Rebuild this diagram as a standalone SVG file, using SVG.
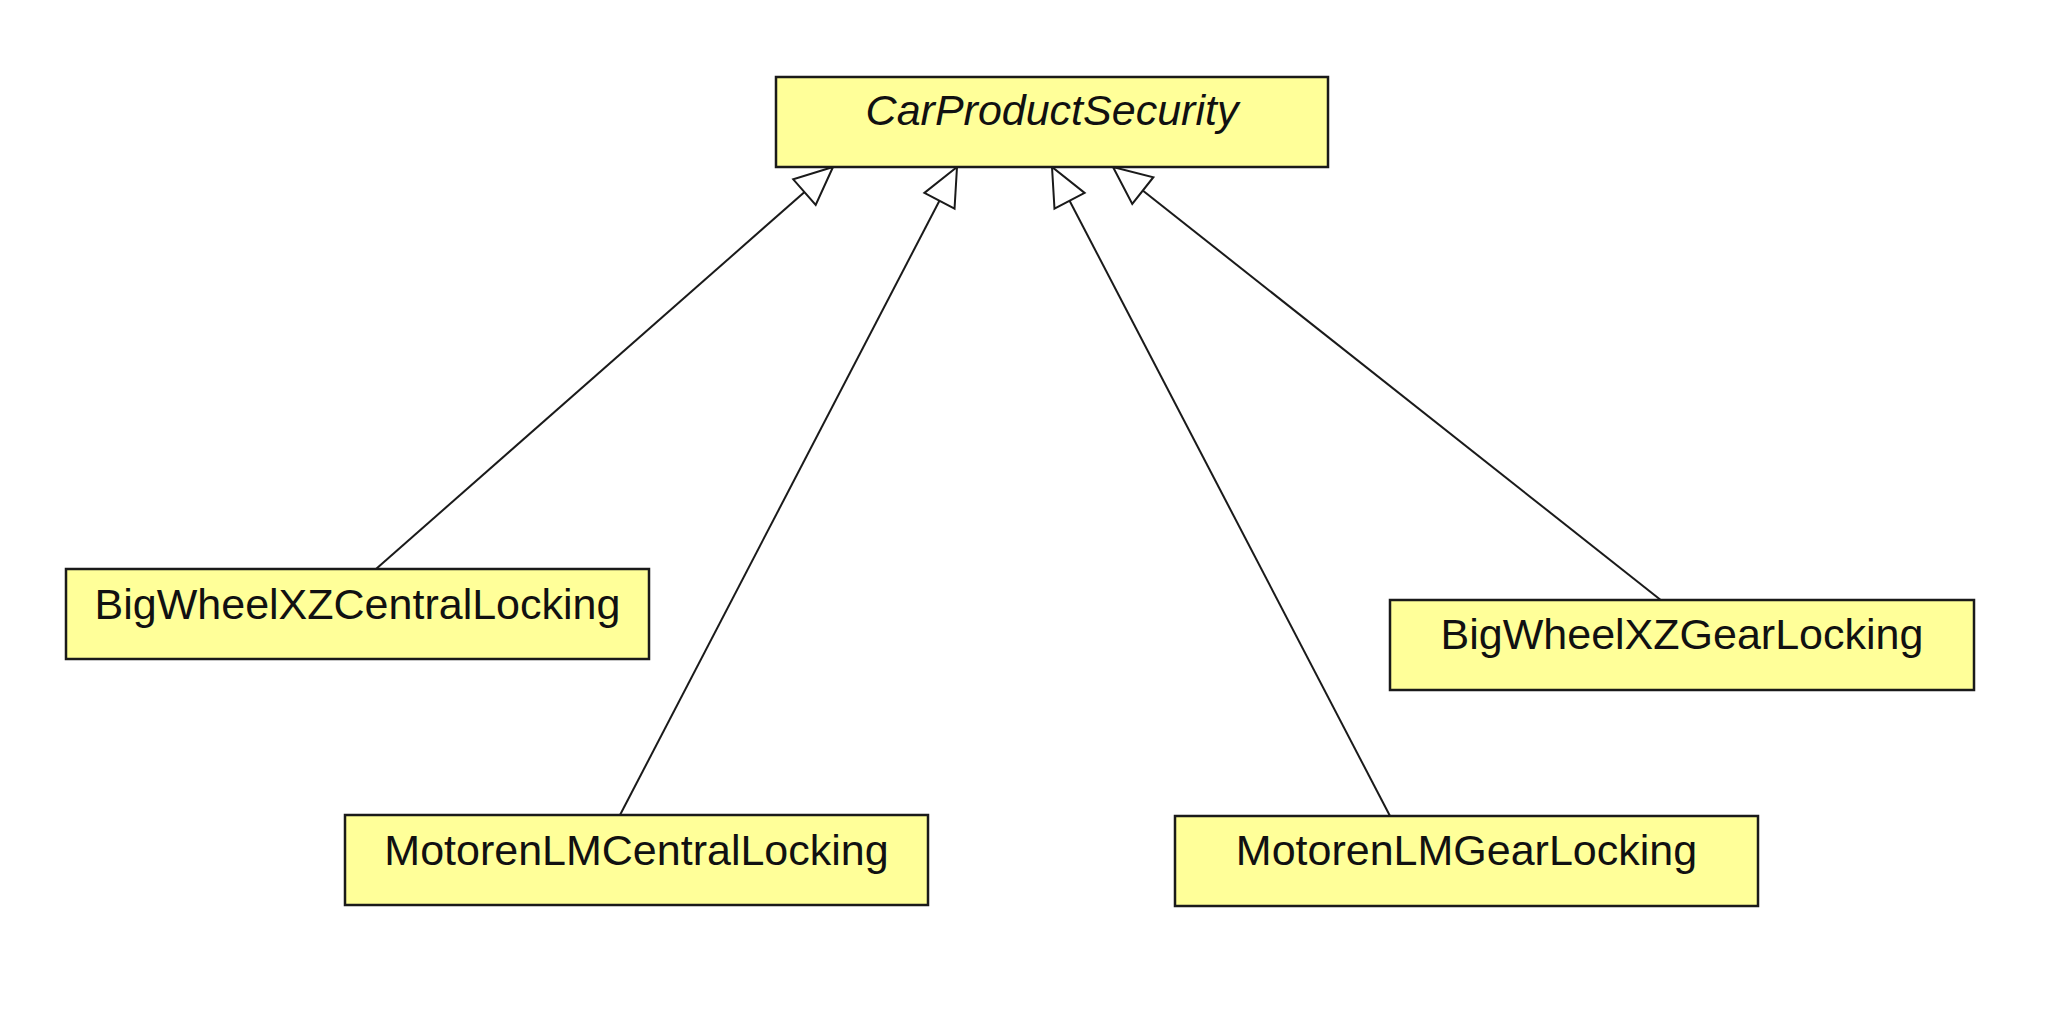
<svg xmlns="http://www.w3.org/2000/svg" width="2058" height="1018" viewBox="0 0 2058 1018">
<style>
.box{fill:#ffff99;stroke:#1a1a1a;stroke-width:2.5}
.lbl{font-family:"Liberation Sans",Arial,sans-serif;font-size:43px;fill:#111;text-anchor:middle}
.it{font-style:italic}
.edge{stroke:#1a1a1a;stroke-width:2;fill:none;marker-end:url(#gen)}
</style>
<defs>
<marker id="gen" markerUnits="userSpaceOnUse" markerWidth="80" markerHeight="80" refX="0" refY="0" orient="auto" overflow="visible">
<path d="M0,0 L-38,-17 L-38,17 Z" fill="#fff" stroke="#1a1a1a" stroke-width="2" stroke-linejoin="miter"/>
</marker>
</defs>
<rect width="2058" height="1018" fill="#fff"/>
<g id="connectors">
<line class="edge" x1="376" y1="569" x2="833" y2="167"/>
<line class="edge" x1="620" y1="815" x2="957" y2="167"/>
<line class="edge" x1="1390" y1="816" x2="1052" y2="167"/>
<line class="edge" x1="1662" y1="601" x2="1113" y2="167"/>
</g>
<g id="CarProductSecurity">
<rect class="box" x="776" y="77" width="552" height="90"/>
<text class="lbl it" x="1052" y="125">CarProductSecurity</text>
</g>
<g id="BigWheelXZCentralLocking">
<rect class="box" x="66" y="569" width="583" height="90"/>
<text class="lbl" x="357.5" y="619">BigWheelXZCentralLocking</text>
</g>
<g id="MotorenLMCentralLocking">
<rect class="box" x="345" y="815" width="583" height="90"/>
<text class="lbl" x="636.5" y="865">MotorenLMCentralLocking</text>
</g>
<g id="MotorenLMGearLocking">
<rect class="box" x="1175" y="816" width="583" height="90"/>
<text class="lbl" x="1466.5" y="865">MotorenLMGearLocking</text>
</g>
<g id="BigWheelXZGearLocking">
<rect class="box" x="1390" y="600" width="584" height="90"/>
<text class="lbl" x="1682" y="649">BigWheelXZGearLocking</text>
</g>
</svg>
